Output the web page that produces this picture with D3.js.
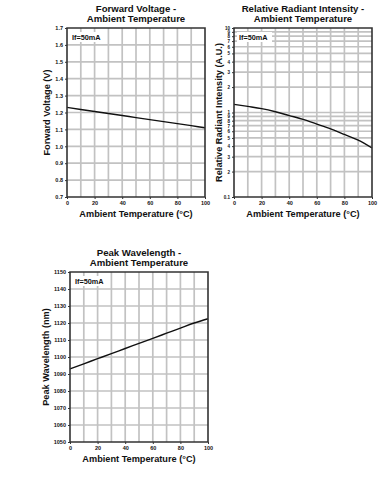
<!DOCTYPE html>
<html>
<head>
<meta charset="utf-8">
<script src="https://cdn.jsdelivr.net/npm/d3@7"></script>
<style>
  body { margin: 0; background: #fff; }
  svg text { font-family: "Liberation Sans", Arial, sans-serif; font-weight: bold; fill: #111; }
</style>
</head>
<body>
<div id="vis"></div>
<script>
var WIDTH = 387
var HEIGHT = 489

// data
var temps = [0, 10, 20, 30, 40, 50, 60, 70, 80, 90, 100];
var voltage = [1.23, 1.218, 1.206, 1.194, 1.182, 1.17, 1.158, 1.146, 1.134, 1.122, 1.11];
var intensity = [1.25, 1.18, 1.11, 1.02, 0.92, 0.83, 0.73, 0.64, 0.55, 0.47, 0.38];
var wavelength = [1093, 1096, 1099, 1102, 1105, 1108, 1111, 1114, 1117, 1120, 1122.5];

var xTicks = [0, 20, 40, 60, 80, 100];
var vTicks = [0.7, 0.8, 0.9, 1.0, 1.1, 1.2, 1.3, 1.4, 1.5, 1.6, 1.7];
var wTicks = [1050, 1060, 1070, 1080, 1090, 1100, 1110, 1120, 1130, 1140, 1150];
var logLines = [0.1, 0.2, 0.3, 0.4, 0.5, 0.6, 0.7, 0.8, 0.9, 1, 2, 3, 4, 5, 6, 7, 8, 9, 10];

const svg = d3.select('#vis').append('svg')
    .attr('width', WIDTH)
    .attr('height', HEIGHT)

function drawChart(opt) {
    var g = svg.append('g');
    var x = d3.scaleLinear().domain([0, 100]).range([opt.x0, opt.x1]);
    var y = opt.y;

    // grid
    var grid = g.append('g')
        .attr('stroke', '#c2c2c2')
        .attr('stroke-width', 1.7);

    grid.selectAll('line.vg')
        .data(d3.range(10, 100, 10))
        .enter()
        .append('line')
        .attr('class', 'vg')
        .attr('x1', d => x(d)).attr('x2', d => x(d))
        .attr('y1', opt.y1).attr('y2', opt.y0);

    grid.selectAll('line.hg')
        .data(opt.gridY)
        .enter()
        .append('line')
        .attr('class', 'hg')
        .attr('x1', opt.x0).attr('x2', opt.x1)
        .attr('y1', d => y(d)).attr('y2', d => y(d));

    // curve
    var line = d3.line()
        .x((d, i) => x(temps[i]))
        .y(d => y(d))
        .curve(d3.curveMonotoneX);
    g.append('path')
        .datum(opt.values)
        .attr('d', line)
        .attr('fill', 'none')
        .attr('stroke', '#111')
        .attr('stroke-width', 1.4);

    // If box
    g.append('rect')
        .attr('x', opt.x0 + 3).attr('y', opt.y1 + 4)
        .attr('width', 35).attr('height', 10)
        .attr('fill', '#fff');
    g.append('text')
        .attr('x', opt.x0 + 5).attr('y', opt.y1 + 12)
        .attr('font-size', 7.3)
        .text('If=50mA');

    // frame
    g.append('path')
        .attr('d', 'M' + opt.x0 + ',' + opt.y1 + 'H' + opt.x1 + 'V' + opt.y0 + 'H' + opt.x0 + 'Z')
        .attr('fill', 'none')
        .attr('stroke', '#333')
        .attr('stroke-width', 1.6);

    // x axis
    var xAxis = d3.axisBottom(x).tickValues(xTicks).tickSize(2).tickPadding(2);
    var xg = g.append('g')
        .attr('transform', 'translate(0,' + opt.y0 + ')')
        .call(xAxis);
    xg.select('.domain').remove();
    xg.selectAll('text').attr('font-size', 5.5).attr('font-family', null);
    xg.selectAll('line').attr('stroke', '#333');

    // y axis
    var yAxis = d3.axisLeft(y).tickValues(opt.ticksY).tickSize(2).tickPadding(2)
        .tickFormat(opt.fmt);
    var yg = g.append('g')
        .attr('transform', 'translate(' + opt.x0 + ',0)')
        .call(yAxis);
    yg.select('.domain').remove();
    yg.selectAll('text').attr('font-size', opt.tickSize || 5.5).attr('font-family', null);
    yg.selectAll('line').attr('stroke', '#333');

    // titles
    var cx = (opt.x0 + opt.x1) / 2;
    g.append('text').attr('x', cx).attr('y', opt.y1 - 16)
        .attr('text-anchor', 'middle').attr('font-size', 9.6).text(opt.title[0]);
    g.append('text').attr('x', cx).attr('y', opt.y1 - 6.5)
        .attr('text-anchor', 'middle').attr('font-size', 9.6).text(opt.title[1]);

    g.append('text').attr('x', cx).attr('y', opt.y0 + 20)
        .attr('text-anchor', 'middle').attr('font-size', 9.2)
        .text('Ambient Temperature (°C)');

    g.append('text')
        .attr('transform', 'translate(' + (opt.x0 - opt.yOff) + ',' + ((opt.y0 + opt.y1) / 2) + ') rotate(-90)')
        .attr('text-anchor', 'middle').attr('font-size', 9.2)
        .text(opt.ylabel);
}

drawChart({
    x0: 67, x1: 205, y0: 197, y1: 28,
    y: d3.scaleLinear().domain([0.7, 1.7]).range([197, 28]),
    gridY: vTicks.slice(1, -1),
    ticksY: vTicks,
    fmt: d3.format('.1f'),
    values: voltage,
    yOff: 17,
    title: ['Forward Voltage -', 'Ambient Temperature'],
    ylabel: 'Forward Voltage (V)'
});

drawChart({
    x0: 234, x1: 372, y0: 197, y1: 28,
    y: d3.scaleLog().domain([0.1, 10]).range([197, 28]),
    gridY: logLines.slice(1, -1),
    ticksY: logLines,
    fmt: d => (d === 0.1 || d === 1 || d === 10) ? String(d) : String(Math.round(d < 1 ? d * 10 : d)),
    tickSize: 4.5,
    values: intensity,
    yOff: 12.5,
    title: ['Relative Radiant Intensity -', 'Ambient Temperature'],
    ylabel: 'Relative Radiant Intensity (A.U.)'
});

drawChart({
    x0: 70, x1: 208, y0: 442, y1: 272,
    y: d3.scaleLinear().domain([1050, 1150]).range([442, 272]),
    gridY: wTicks.slice(1, -1),
    ticksY: wTicks,
    fmt: d3.format('d'),
    values: wavelength,
    yOff: 21,
    title: ['Peak Wavelength -', 'Ambient Temperature'],
    ylabel: 'Peak Wavelength (nm)'
});
</script>
</body>
</html>
